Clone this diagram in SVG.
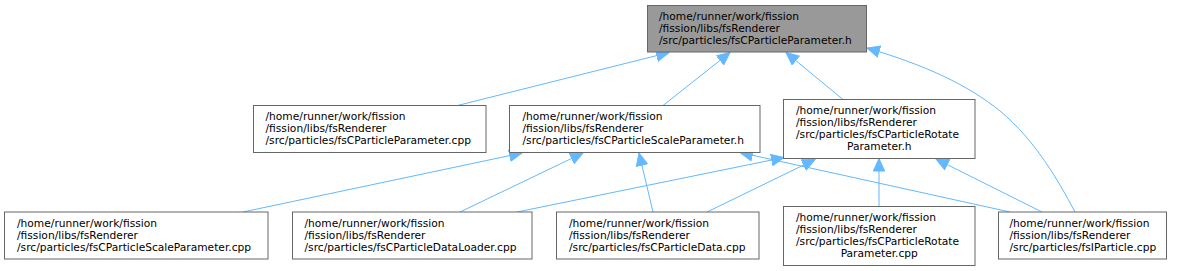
<svg xmlns="http://www.w3.org/2000/svg" width="1178" height="271" viewBox="0 0 1178 271">
<style>
.n rect{fill:#ffffff;stroke:#666666;stroke-width:1}
.n.h rect{fill:#999999}
.n text{font-family:"DejaVu Sans","Noto Sans",sans-serif;font-size:10.67px;fill:#000000}
.e path{fill:none;stroke:#63b8ff;stroke-width:1;marker-end:url(#ah)}
</style>
<defs>
<marker id="ah" markerUnits="userSpaceOnUse" orient="auto" markerWidth="15" markerHeight="14" refX="13" refY="6.5">
<path d="M0.5,0.8 L13,6.5 L0.5,12.2 Z" fill="#63b8ff" stroke="#63b8ff" stroke-width="1"/>
</marker>
</defs>
<rect width="1178" height="271" fill="#ffffff"/>
<g id="edges" class="e">
<path d="M457.5,105.5 L669,52.5"/>
<path d="M663,105.5 L730,52.5"/>
<path d="M843,99.5 L786,52.5"/>
<path d="M1075,212 C1058,180 1035,140 1000,111 C968,85 925,65 867,48"/>
<path d="M243,212 L522,153"/>
<path d="M460,212 L583,153"/>
<path d="M653,212 L639,153"/>
<path d="M1010,212 L740,152.5"/>
<path d="M517,212 L784,157.5"/>
<path d="M707,212 L815,159.5"/>
<path d="M879,206.5 L879,158.5"/>
<path d="M1042,212 L936,159"/>
</g>
<g id="node_param_h" class="n h">
<rect x="647.5" y="5.5" width="219" height="46.5"/>
<text x="659" y="20">/home/runner/work/fission</text>
<text x="659" y="32">/fission/libs/fsRenderer</text>
<text x="659" y="44">/src/particles/fsCParticleParameter.h</text>
</g>
<g id="node_param_cpp" class="n">
<rect x="253.5" y="105.5" width="232.5" height="47"/>
<text x="265.5" y="120">/home/runner/work/fission</text>
<text x="265.5" y="132">/fission/libs/fsRenderer</text>
<text x="265.5" y="144">/src/particles/fsCParticleParameter.cpp</text>
</g>
<g id="node_scale_h" class="n">
<rect x="509.5" y="105.5" width="250.5" height="47"/>
<text x="522.5" y="120">/home/runner/work/fission</text>
<text x="522.5" y="132">/fission/libs/fsRenderer</text>
<text x="522.5" y="144">/src/particles/fsCParticleScaleParameter.h</text>
</g>
<g id="node_rotate_h" class="n">
<rect x="783.5" y="99.5" width="191.5" height="59"/>
<text x="796" y="114">/home/runner/work/fission</text>
<text x="796" y="126">/fission/libs/fsRenderer</text>
<text x="796" y="138">/src/particles/fsCParticleRotate</text>
<text x="879.25" y="150" text-anchor="middle">Parameter.h</text>
</g>
<g id="node_scale_cpp" class="n">
<rect x="4.5" y="212" width="263.5" height="47"/>
<text x="17" y="226.5">/home/runner/work/fission</text>
<text x="17" y="238.5">/fission/libs/fsRenderer</text>
<text x="17" y="250.5">/src/particles/fsCParticleScaleParameter.cpp</text>
</g>
<g id="node_dataloader_cpp" class="n">
<rect x="292.5" y="212" width="239.5" height="47"/>
<text x="304.5" y="226.5">/home/runner/work/fission</text>
<text x="304.5" y="238.5">/fission/libs/fsRenderer</text>
<text x="304.5" y="250.5">/src/particles/fsCParticleDataLoader.cpp</text>
</g>
<g id="node_data_cpp" class="n">
<rect x="556.5" y="212" width="202.5" height="47"/>
<text x="569" y="226.5">/home/runner/work/fission</text>
<text x="569" y="238.5">/fission/libs/fsRenderer</text>
<text x="569" y="250.5">/src/particles/fsCParticleData.cpp</text>
</g>
<g id="node_rotate_cpp" class="n">
<rect x="783.5" y="206.5" width="191.5" height="59"/>
<text x="796" y="221">/home/runner/work/fission</text>
<text x="796" y="233">/fission/libs/fsRenderer</text>
<text x="796" y="245">/src/particles/fsCParticleRotate</text>
<text x="879.25" y="257" text-anchor="middle">Parameter.cpp</text>
</g>
<g id="node_iparticle_cpp" class="n">
<rect x="998.5" y="212" width="168" height="47"/>
<text x="1009.5" y="226.5">/home/runner/work/fission</text>
<text x="1009.5" y="238.5">/fission/libs/fsRenderer</text>
<text x="1009.5" y="250.5">/src/particles/fsIParticle.cpp</text>
</g>
</svg>
